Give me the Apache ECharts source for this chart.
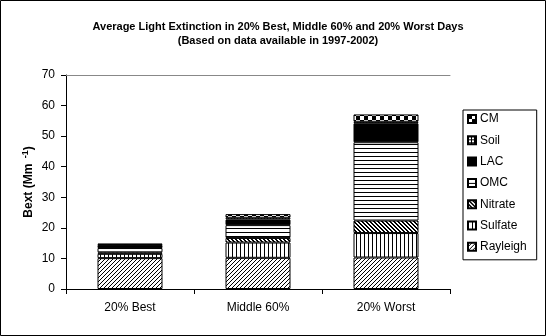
<!DOCTYPE html>
<html>
<head>
<meta charset="utf-8">
<script src="https://cdn.jsdelivr.net/npm/echarts@6/dist/echarts.min.js"></script>
<style>
html,body{margin:0;padding:0;background:#fff;}
#chart{width:546px;height:336px;}
</style>
</head>
<body>
<div id="chart"></div>
<script>
var categories = ['20% Best', 'Middle 60%', '20% Worst'];
var rayleigh = [10.1, 10.2, 10.3];
var sulfate  = [1.4, 5.0, 8.0];
var nitrate  = [0.5, 1.5, 4.1];
var omc      = [1.4, 4.2, 25.6];
var lac      = [0.8, 1.8, 6.2];
var soil     = [0.2, 0.6, 0.5];
var cm       = [0.5, 1.2, 2.4];
var yTicks   = [0, 10, 20, 30, 40, 50, 60, 70];

function tile(w, h, fn) {
  var c = document.createElement('canvas');
  c.width = w; c.height = h;
  var ctx = c.getContext('2d');
  ctx.fillStyle = '#fff'; ctx.fillRect(0, 0, w, h);
  ctx.fillStyle = '#000';
  for (var y = 0; y < h; y++) for (var x = 0; x < w; x++) if (fn(x, y)) ctx.fillRect(x, y, 1, 1);
  return { image: c, repeat: 'repeat' };
}
var patterns = {
  Rayleigh: tile(4, 4, function (x, y) { return (x + y) % 4 === 3; }),
  Sulfate: tile(4, 1, function (x, y) { return x === 0; }),
  Nitrate: tile(4, 4, function (x, y) { var d = ((x - y) % 4 + 4) % 4; return d === 0 || d === 1; }),
  OMC: tile(1, 4, function (x, y) { return y === 0; }),
  LAC: '#000',
  Soil: tile(3, 3, function (x, y) { return x === 0 || y === 0; }),
  CM: tile(8, 8, function (x, y) { return (x < 4) === (y < 4); })
};

var seriesDefs = [
  ['Rayleigh', rayleigh], ['Sulfate', sulfate], ['Nitrate', nitrate],
  ['OMC', omc], ['LAC', lac], ['Soil', soil], ['CM', cm]
];

var chart = echarts.init(document.getElementById('chart'), null, { renderer: 'canvas' });
var FONT = '"Liberation Sans", Arial, sans-serif';
chart.setOption({
  animation: false,
  backgroundColor: '#fff',
  textStyle: { fontFamily: FONT },
  graphic: [{
    type: 'rect', shape: { x: 0.5, y: 0.5, width: 545, height: 335 },
    style: { fill: 'none', stroke: '#000', lineWidth: 1 }, silent: true
  }],
  title: {
    text: 'Average Light Extinction in 20% Best, Middle 60% and 20% Worst Days\n(Based on data available in 1997-2002)',
    left: 273, top: 15, textAlign: 'center',
    textStyle: { fontFamily: FONT, fontSize: 11, fontWeight: 'bold', color: '#000', lineHeight: 14 }
  },
  legend: {
    orient: 'vertical', left: 463, top: 110,
    data: ['CM', 'Soil', 'LAC', 'OMC', 'Nitrate', 'Sulfate', 'Rayleigh'],
    borderColor: '#000', borderWidth: 1, borderRadius: 0,
    padding: [2, 10, 6, 4],
    itemWidth: 8, itemHeight: 8, itemGap: 7.3,
    icon: 'rect',
    textStyle: { fontFamily: FONT, fontSize: 12, color: '#000', padding: [0, 0, 0, -1], lineHeight: 14 }
  },
  grid: { left: 66, right: 96, top: 75, bottom: 47 },
  xAxis: [{
    type: 'category', data: categories,
    axisLine: { lineStyle: { color: '#000', width: 1 } },
    axisTick: { show: true, inside: false, length: 5, lineStyle: { color: '#000' } },
    axisLabel: { color: '#000', fontSize: 12, fontFamily: FONT, margin: 13 }
  }, {
    type: 'category', data: categories, position: 'top',
    axisLine: { show: true, lineStyle: { color: '#888', width: 1 } },
    axisTick: { show: false }, axisLabel: { show: false }
  }],
  yAxis: {
    type: 'value', min: yTicks[0], max: yTicks[yTicks.length - 1], interval: 10,
    name: '{a|Bext (Mm }{b|-1}{a|)}',
    nameLocation: 'middle', nameGap: 30, nameRotate: 90,
    nameMoveOverlap: false,
    nameTextStyle: {
      rich: {
        a: { fontFamily: FONT, fontSize: 12, fontWeight: 'bold', color: '#000' },
        b: { fontFamily: FONT, fontSize: 9, fontWeight: 'bold', color: '#000', verticalAlign: 'top', padding: [0, 0, 6, 2] }
      }
    },
    axisLine: { show: true, lineStyle: { color: '#000', width: 1 } },
    axisTick: { show: true, inside: false, length: 5, lineStyle: { color: '#000' } },
    axisLabel: { color: '#000', fontSize: 12, fontFamily: FONT, margin: 11 },
    splitLine: { show: false }
  },
  series: seriesDefs.map(function (d) {
    return {
      name: d[0], type: 'bar', stack: 'total', data: d[1], barWidth: 65,
      itemStyle: { color: patterns[d[0]], borderColor: '#000', borderWidth: 1 },
      emphasis: { disabled: true }
    };
  })
});
</script>
</body>
</html>
